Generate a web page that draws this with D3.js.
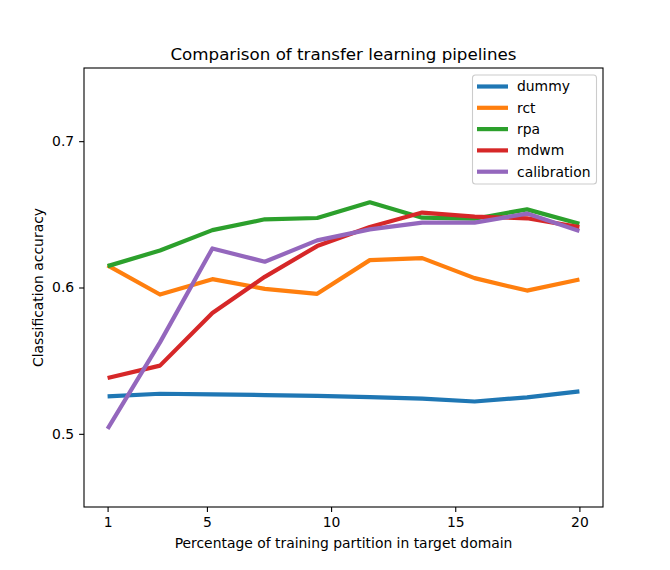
<!DOCTYPE html>
<html>
<head>
<meta charset="utf-8">
<script src="https://cdn.jsdelivr.net/npm/d3@7"></script>
<style>
  body { margin: 0; background: #fff; }
  text { font-family: "DejaVu Sans", sans-serif; fill: #000; }
</style>
</head>
<body>
<svg id="chart"></svg>
<script>
// percentages of training partition (10 evenly spaced steps from 1 to 20)
const xValues = [1, 3.11, 5.22, 7.33, 9.44, 11.56, 13.67, 15.78, 17.89, 20];
const seriesNames = ['dummy', 'rct', 'rpa', 'mdwm', 'calibration'];
const dummy = [0.5256, 0.5274, 0.5269, 0.5265, 0.5260, 0.5251, 0.5240, 0.5221, 0.5249, 0.5290];
const rct = [0.6151, 0.5952, 0.6057, 0.5991, 0.5957, 0.6187, 0.6201, 0.6064, 0.5979, 0.6055];
const rpa = [0.6146, 0.6253, 0.6392, 0.6466, 0.6475, 0.6582, 0.6477, 0.6470, 0.6534, 0.6436];
const mdwm = [0.5381, 0.5466, 0.5826, 0.6073, 0.6283, 0.6413, 0.6512, 0.6484, 0.6473, 0.6413];
const calibration = [0.5034, 0.5625, 0.6267, 0.6176, 0.6322, 0.6397, 0.6443, 0.6443, 0.6505, 0.6386];
const xTicks = [1, 5, 10, 15, 20];
const yTicks = [0.5, 0.6, 0.7];

const allSeries = [dummy, rct, rpa, mdwm, calibration];
const colors = ['#1f77b4', '#ff7f0e', '#2ca02c', '#d62728', '#9467bd'];

const width = 670, height = 570;
const margin = { top: 68, right: 67, bottom: 63, left: 84 };
const innerW = width - margin.left - margin.right;
const innerH = height - margin.top - margin.bottom;
const fontSize = '13.9px';

const svg = d3.select('#chart').attr('width', width).attr('height', height);
const g = svg.append('g').attr('transform', `translate(${margin.left},${margin.top})`);

const x = d3.scaleLinear().domain([0.05, 20.95]).range([0, innerW]);
const y = d3.scaleLinear().domain([0.45, 0.75]).range([innerH, 0]);

// axes
const xAxis = g.append('g')
  .attr('transform', `translate(0,${innerH})`)
  .call(d3.axisBottom(x).tickValues(xTicks).tickFormat(d3.format('d')).tickSizeOuter(0).tickSize(4.9).tickPadding(4.9));
const yAxis = g.append('g')
  .call(d3.axisLeft(y).tickValues(yTicks).tickFormat(d3.format('.1f')).tickSizeOuter(0).tickSize(4.9).tickPadding(4.9));
[xAxis, yAxis].forEach(a => {
  a.select('.domain').remove();
  a.selectAll('line').attr('stroke', '#000').attr('stroke-width', 1.1);
  a.selectAll('text').attr('font-size', fontSize).attr('font-family', 'DejaVu Sans');
});

// lines
const line = d3.line().x((d, i) => x(xValues[i])).y(d => y(d));
g.append('g').selectAll('path')
  .data(allSeries)
  .enter()
  .append('path')
  .attr('d', line)
  .attr('fill', 'none')
  .attr('stroke', (d, i) => colors[i])
  .attr('stroke-width', 4.2)
  .attr('stroke-linejoin', 'round')
  .attr('stroke-linecap', 'butt');

// frame
g.append('rect')
  .attr('width', innerW).attr('height', innerH)
  .attr('fill', 'none').attr('stroke', '#000').attr('stroke-width', 1.1);

// title and labels
svg.append('text')
  .attr('x', margin.left + innerW / 2).attr('y', 60)
  .attr('text-anchor', 'middle').attr('font-size', '16.7px')
  .text('Comparison of transfer learning pipelines');
svg.append('text')
  .attr('x', margin.left + innerW / 2).attr('y', 548)
  .attr('text-anchor', 'middle').attr('font-size', fontSize)
  .text('Percentage of training partition in target domain');
svg.append('text')
  .attr('transform', `translate(43,${margin.top + innerH / 2}) rotate(-90)`)
  .attr('text-anchor', 'middle').attr('font-size', fontSize)
  .text('Classification accuracy');

// legend
const legend = svg.append('g').attr('transform', 'translate(472.5,75)');
legend.append('rect')
  .attr('width', 124).attr('height', 109).attr('rx', 3)
  .attr('fill', '#fff').attr('fill-opacity', 0.8)
  .attr('stroke', '#ccc').attr('stroke-width', 1.1);
const items = legend.selectAll('.item')
  .data(seriesNames)
  .enter()
  .append('g')
  .attr('transform', (d, i) => `translate(0,${11.5 + i * 21.3})`);
items.append('line')
  .attr('x1', 4.5).attr('x2', 35.5)
  .attr('stroke', (d, i) => colors[i]).attr('stroke-width', 4.2);
items.append('text')
  .attr('x', 44.5).attr('dy', '0.35em').attr('font-size', fontSize)
  .text(d => d);
</script>
</body>
</html>
